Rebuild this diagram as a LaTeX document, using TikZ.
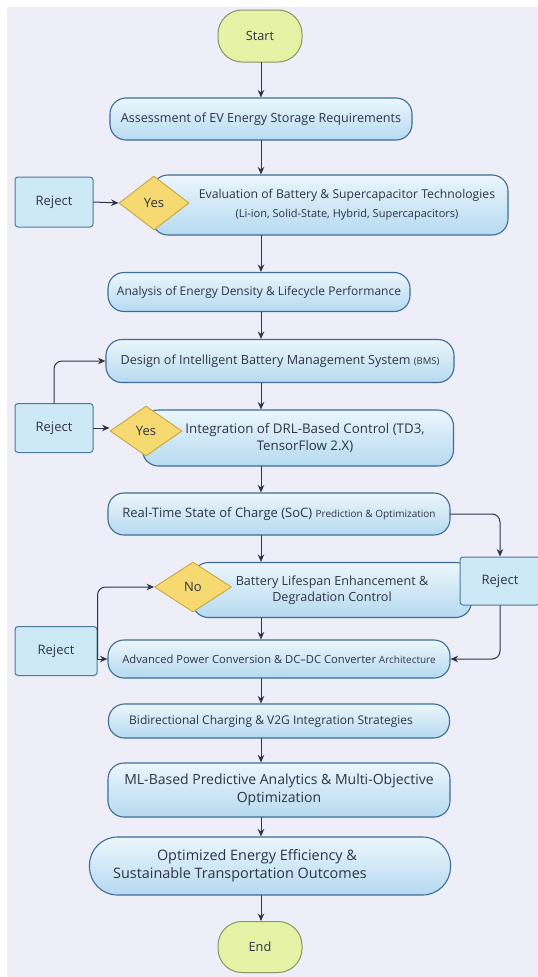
\documentclass[tikz,border=0pt]{standalone}
\usepackage{fontspec}
\setmainfont{Open Sans}
\usepackage{tikz}
\usetikzlibrary{arrows.meta,positioning,calc,shapes.geometric}
\definecolor{pagebg}{HTML}{EEEEF8}
\definecolor{ink}{HTML}{2E3446}
\definecolor{boxline}{HTML}{3D6C96}
\definecolor{boxtop}{HTML}{EBF6FC}
\definecolor{boxbot}{HTML}{B6DAF0}
\definecolor{rejfill}{HTML}{CDE8F6}
\definecolor{rejline}{HTML}{4C7A9E}
\definecolor{gold}{HTML}{F6D970}
\definecolor{goldline}{HTML}{C8A846}
\definecolor{lime}{HTML}{E6F2A6}
\definecolor{limeline}{HTML}{8C9566}
\newcommand{\fsz}[1]{\fontsize{#1}{1.25\dimexpr#1pt\relax}\selectfont}
\newcommand{\subsize}{\fontsize{9.5}{12}\selectfont}
\tikzset{
    every picture/.style={line cap=round,line join=round},
    stepbox/.style={draw=boxline,top color=boxtop,bottom color=boxbot,line width=1.1pt,
      rounded corners=16pt,inner sep=2pt,align=center,text=ink,font=\fsz{12.6}},
    terminal/.style={draw=limeline,fill=lime,line width=1pt,rounded corners=24pt,
      minimum width=84pt,minimum height=52pt,text=ink,font=\fsz{12.7}},
    decision/.style={diamond,draw=goldline,fill=gold,line width=0.9pt,inner sep=0pt,
      text=ink,font=\fsz{13}},
    rejectbox/.style={draw=rejline,fill=rejfill,line width=1pt,rounded corners=3pt,
      minimum width=78pt,minimum height=50pt,text=ink,font=\fsz{13}},
    steptext/.style={align=center,text=ink,inner sep=1pt},
    flowarrow/.style={-{Stealth[length=7.5pt,width=6.5pt]},draw=ink,line width=1pt},
    loopline/.style={flowarrow,rounded corners=8pt}
}
\begin{document}
\begin{tikzpicture}[x=1pt,y=-1pt]
  \useasboundingbox (0,0) rectangle (538,977);
  \fill[pagebg] (7,7) rectangle (538,977);
  \coordinate (spine) at (261,0);

  % main column
  \node[terminal] (start) at (260,36) {Start};
  \node[stepbox,minimum width=302pt,minimum height=42pt] (assess) at (261,119)
    {Assessment of EV Energy Storage Requirements};
  \node[stepbox,minimum width=356pt,minimum height=60pt] (eval) at (330,205) {};
  \node[steptext,font=\fsz{12.2}] (evaltext) at (347,205)
    {Evaluation of Battery \& Supercapacitor Technologies\\[4pt]
     {\fsz{11}(Li-ion, Solid-State, Hybrid, Supercapacitors)}};
  \node[decision,minimum width=70pt,minimum height=54pt] (yesA) at (154,203) {Yes};
  \node[rejectbox] (rejA) at (54,202) {Reject};

  \node[stepbox,minimum width=302pt,minimum height=39pt,font=\fsz{12}] (analysis) at (259,292)
    {Analysis of Energy Density \& Lifecycle Performance};
  \node[stepbox,minimum width=348pt,minimum height=43pt] (design) at (280,361)
    {Design of Intelligent Battery Management System {\subsize(BMS)}};
  \node[stepbox,minimum width=311pt,minimum height=56pt] (integ) at (298,438) {};
  \node[steptext,font=\fsz{13.3}] (integtext) at (305,438)
    {Integration of DRL-Based Control (TD3,\\TensorFlow 2.X)};
  \node[decision,minimum width=72pt,minimum height=50pt] (yesB) at (146,431) {Yes};
  \node[rejectbox,minimum height=49pt] (rejB) at (54,428) {Reject};

  \node[stepbox,minimum width=342pt,minimum height=42pt,font=\fsz{13}] (realtime) at (279,514)
    {Real-Time State of Charge (SoC) {\fsz{10}Prediction \& Optimization}};
  \node[stepbox,minimum width=279pt,minimum height=55pt] (battery) at (332,590)
    {Battery Lifespan Enhancement \&\\Degradation Control};
  \node[decision,minimum width=77pt,minimum height=50pt] (noC) at (193,587) {No};
  \node[rejectbox,minimum width=80pt,minimum height=48pt] (rejC) at (500,581) {Reject};
  \node[rejectbox,minimum width=82pt,minimum height=49pt] (rejD) at (56,651) {Reject};

  \node[stepbox,minimum width=342pt,minimum height=38pt,font=\fsz{11.2}] (advanced) at (279,659)
    {Advanced Power Conversion \& DC\textendash DC Converter {\fsz{10}Architecture}};
  \node[stepbox,minimum width=341pt,minimum height=34pt,font=\fsz{12}] (bidir) at (279,721)
    {Bidirectional Charging \& V2G Integration Strategies\hspace*{16pt}};
  \node[stepbox,minimum width=342pt,minimum height=54pt,font=\fsz{14}] (ml) at (279,790)
    {ML-Based Predictive Analytics \& Multi-Objective\\Optimization};
  \node[stepbox,minimum width=361pt,minimum height=58pt,rounded corners=28pt,font=\fsz{14.4}]
    (optim) at (270,866)
    {Optimized Energy Efficiency \&\hspace*{26pt}\\Sustainable Transportation Outcomes\hspace*{60pt}};
  \node[terminal,minimum height=51pt] (finish) at (260,947) {End};

  % down the spine
  \draw[flowarrow] (start.south -| spine) -- (assess.north -| spine);
  \draw[flowarrow] (assess.south -| spine) -- (eval.north -| spine);
  \draw[flowarrow] (eval.south -| spine) -- (analysis.north -| spine);
  \draw[flowarrow] (analysis.south -| spine) -- (design.north -| spine);
  \draw[flowarrow] (design.south -| spine) -- (integ.north -| spine);
  \draw[flowarrow] (integ.south -| spine) -- (realtime.north -| spine);
  \draw[flowarrow] (realtime.south -| spine) -- (battery.north -| spine);
  \draw[flowarrow] (battery.south -| spine) -- (advanced.north -| spine);
  \draw[flowarrow] (advanced.south -| spine) -- (bidir.north -| spine);
  \draw[flowarrow] (bidir.south -| spine) -- (ml.north -| spine);
  \draw[flowarrow] (ml.south -| spine) -- (optim.north -| spine);
  \draw[flowarrow] (optim.south -| spine) -- (finish.north -| spine);

  % reject loops
  \draw[flowarrow] (rejA.east) -- (yesA.west);
  \draw[flowarrow] (rejB.east) -- (rejB.east -| yesB.west);
  \draw[loopline] (rejB.north) |- (design.west);
  \draw[loopline] (realtime.east) -| (rejC.north);
  \draw[loopline] (rejC.south) |- (advanced.east);
  \coordinate (joinD) at (rejD.east |- advanced.west);
  \draw[flowarrow] (joinD) -- (advanced.west);
  \draw[loopline] (joinD) |- (noC.west);
\end{tikzpicture}
\end{document}
